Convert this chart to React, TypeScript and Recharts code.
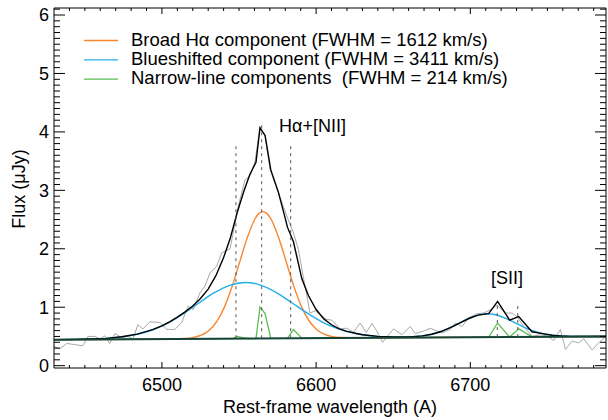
import React from 'react';
import { LineChart, Line, XAxis, YAxis, ReferenceLine, ReferenceDot } from 'recharts';

// observed spectrum (grey)
const dataWave = [
  6430, 6433.8, 6438.3, 6443.5, 6448.7, 6452, 6456.5, 6459.7, 6463, 6466.2, 6469.5, 6474, 6477.9, 6481.2,
  6484.4, 6487.7, 6492.2, 6498.7, 6503.1, 6508.4, 6512.8, 6517.1, 6520.3, 6524.7, 6527.9, 6531.2, 6535.5,
  6538.8, 6544.2, 6547.4, 6549.5, 6553.9, 6557.1, 6560.4, 6563.6, 6566.9, 6570.1, 6575.5, 6581, 6585.3,
  6588.5, 6591.8, 6596.1, 6599.4, 6606.9, 6610.2, 6615.6, 6619.9, 6624.2, 6628.6, 6632.5, 6636.2, 6639.4,
  6643.1, 6650.2, 6655.6, 6661, 6664.3, 6669.7, 6674, 6681.6, 6687, 6690.3, 6694.6, 6698.9, 6704.4, 6708.6,
  6714.1, 6717.3, 6722.7, 6727.1, 6730.3, 6734.6, 6740.1, 6745.5, 6749.8, 6754.1, 6758.4, 6761.7, 6766,
  6770.3, 6773.6, 6779, 6784.4, 6788,
];
const dataFlux = [
  0.33, 0.29, 0.38, 0.36, 0.34, 0.5, 0.5, 0.46, 0.51, 0.38, 0.55, 0.48, 0.5, 0.46,
  0.7, 0.63, 0.75, 0.74, 0.62, 0.62, 0.74, 1.02, 0.96, 1.25, 1.36, 1.59, 1.7,
  1.93, 2.0, 2.44, 2.73, 3.18, 3.24, 3.5, 4.08, 3.93, 3.36, 2.96, 2.56, 2.27,
  1.99, 1.5, 0.9, 0.94, 0.79, 0.78, 0.63, 0.64, 0.57, 0.73, 0.57, 0.72, 0.59,
  0.4, 0.63, 0.53, 0.67, 0.55, 0.59, 0.64, 0.56, 0.62, 0.73, 0.67, 0.82, 0.89, 0.9,
  0.97, 1.04, 0.9, 0.9, 0.84, 0.67, 0.5, 0.53, 0.51, 0.43, 0.62, 0.28, 0.42,
  0.39, 0.46, 0.27, 0.42, 0.5,
];

// broad H-alpha component (orange)
const broadWave = [
  6430, 6500, 6515.5, 6520.5, 6525.5, 6530.5, 6535.5, 6540.5, 6545.5, 6550.5, 6555.5, 6560.5, 6563,
  6565.5, 6568, 6570.5, 6575.5, 6580.5, 6585.5, 6590.5, 6595.5, 6600.5, 6605.5, 6610.5, 6615.5, 6630, 6788,
];
const broadFlux = [
  0.445, 0.455, 0.466, 0.483, 0.521, 0.603, 0.754, 1.002, 1.355, 1.78, 2.202, 2.518, 2.606,
  2.636, 2.606, 2.52, 2.206, 1.786, 1.361, 1.01, 0.764, 0.614, 0.534, 0.497, 0.482, 0.476, 0.5,
];

// blueshifted component (blue)
const blueWave = [
  6430, 6444, 6454, 6464, 6474, 6484, 6494, 6504, 6514, 6524, 6534, 6544, 6554, 6564, 6574, 6584, 6594,
  6604, 6614, 6624, 6634, 6644, 6657, 6663, 6669, 6675, 6681, 6687, 6693, 6699, 6705, 6711, 6717, 6723,
  6729, 6735, 6741, 6747, 6753, 6759, 6765, 6788,
];
const blueFlux = [
  0.445, 0.449, 0.456, 0.467, 0.492, 0.537, 0.615, 0.732, 0.891, 1.072, 1.248, 1.375, 1.424, 1.378, 1.254,
  1.081, 0.903, 0.747, 0.633, 0.558, 0.516, 0.494, 0.49, 0.494, 0.509, 0.537, 0.584, 0.649, 0.729, 0.807,
  0.865, 0.888, 0.867, 0.81, 0.734, 0.656, 0.593, 0.548, 0.521, 0.507, 0.501, 0.5,
];

// narrow-line components (green)
const narrowWave = [
  6430, 6546.3, 6548.9, 6553.2, 6557, 6561, 6563.6, 6566.9, 6570.6, 6581.4, 6585.3, 6590.7, 6711.9,
  6717.7, 6725.5, 6731.4, 6740, 6788,
];
const narrowFlux = [
  0.445, 0.463, 0.5, 0.475, 0.464, 0.465, 1.0, 0.89, 0.467, 0.469, 0.62, 0.47, 0.488,
  0.73, 0.49, 0.63, 0.493, 0.5,
];

// total model (black)
const modelWave = [
  6430, 6444, 6454, 6464, 6474, 6484, 6494, 6500, 6505, 6510, 6515, 6520, 6524.7, 6530, 6535, 6540,
  6544.2, 6548.9, 6553.2, 6557, 6561, 6563.6, 6566.9, 6570.6, 6575.5, 6579.9, 6581.4, 6585.3, 6590.7,
  6595, 6600, 6605, 6610, 6615, 6620, 6630, 6640, 6650, 6660, 6669, 6675, 6681, 6687, 6693, 6699, 6705,
  6711.9, 6717.7, 6725.5, 6731.4, 6740, 6747, 6753, 6759, 6765, 6788,
];
const modelFlux = [
  0.445, 0.449, 0.456, 0.467, 0.494, 0.54, 0.617, 0.68, 0.75, 0.83, 0.92, 1.02, 1.14, 1.31, 1.54, 1.85,
  2.17, 2.63, 2.99, 3.27, 3.48, 4.07, 3.94, 3.35, 2.97, 2.53, 2.37, 2.12, 1.49,
  1.2, 0.96, 0.8, 0.7, 0.63, 0.586, 0.53, 0.501, 0.49, 0.49, 0.509, 0.537, 0.584, 0.649, 0.729, 0.807, 0.865,
  0.89, 1.1, 0.78, 0.84, 0.58, 0.548, 0.521, 0.507, 0.501, 0.5,
];

// continuum
const contWave = [6430, 6788];
const contFlux = [0.445, 0.5];

// marked line positions (dotted)
const lineWave = [6548, 6564.7, 6583.5, 6717.5, 6730.8];
const lineTop = [3.81, 4.17, 3.81, 1.09, 1.09];
const lineBase = [0.47, 0.47, 0.47, 0.49, 0.49];

const xMajor = [6500, 6600, 6700];
const yMajor = [0, 1, 2, 3, 4, 5, 6];

const legendItems = [
  { label: 'Broad H\u03b1 component (FWHM = 1612 km/s)', color: '#f7862f' },
  { label: 'Blueshifted component (FWHM = 3411 km/s)', color: '#24aee8' },
  { label: 'Narrow-line components  (FWHM = 214 km/s)', color: '#5dbb55' },
];

const zip = (xs: number[], ys: number[]) => xs.map((x, i) => ({ x, y: ys[i] }));

const xTicks: number[] = [];
for (let i = 0; i <= 34; i++) xTicks.push(6440 + i * 10);
const yTicks: number[] = [];
for (let i = 0; i <= 61; i++) yTicks.push(i / 10);

const FONT = '"Liberation Sans", Arial, Helvetica, sans-serif';

const xTick = (side: 'bottom' | 'top') => (props: any) => {
  const { x, y, payload } = props;
  const v = payload.value;
  const major = xMajor.includes(v);
  const len = major ? 6 : 3;
  const dir = side === 'bottom' ? -1 : 1;
  return (
    <g>
      <line x1={x} y1={y} x2={x} y2={y + dir * len} stroke="#000" strokeWidth={1} />
      {side === 'bottom' && major && (
        <text x={x} y={y + 23} textAnchor="middle" fontSize={18} fontFamily={FONT} fill="#000">
          {v}
        </text>
      )}
    </g>
  );
};

const yTick = (side: 'left' | 'right') => (props: any) => {
  const { x, y, payload } = props;
  const v = payload.value;
  const major = yMajor.includes(v);
  const len = major ? 11 : 6;
  const dir = side === 'left' ? 1 : -1;
  return (
    <g>
      <line x1={x} y1={y} x2={x + dir * len} y2={y} stroke="#000" strokeWidth={1} />
      {side === 'left' && major && (
        <text x={x - 5} y={y + 6.4} textAnchor="end" fontSize={18} fontFamily={FONT} fill="#000">
          {v}
        </text>
      )}
    </g>
  );
};

export default function App() {
  return (
    <div style={{ position: 'absolute', left: 0, top: 0, width: 608, height: 420, background: '#fff' }}>
      <LineChart width={608} height={420} margin={{ top: 7, right: 1, bottom: 51, left: 53 }}>
        <XAxis
          type="number"
          dataKey="x"
          domain={[6430, 6788]}
          allowDataOverflow
          ticks={xTicks}
          interval={0}
          height={1}
          tickSize={0}
          tickMargin={0}
          tickLine={false}
          tick={xTick('bottom')}
          axisLine={{ stroke: '#000' }}
        />
        <XAxis
          xAxisId="top"
          orientation="top"
          type="number"
          dataKey="x"
          domain={[6430, 6788]}
          allowDataOverflow
          ticks={xTicks}
          interval={0}
          height={1}
          tickSize={0}
          tickMargin={0}
          tickLine={false}
          tick={xTick('top')}
          axisLine={{ stroke: '#000' }}
        />
        <YAxis
          type="number"
          domain={[-0.04, 6.12]}
          allowDataOverflow
          ticks={yTicks}
          interval={0}
          width={1}
          tickSize={0}
          tickMargin={0}
          tickLine={false}
          tick={yTick('left')}
          axisLine={{ stroke: '#000' }}
        />
        <YAxis
          yAxisId="right"
          orientation="right"
          type="number"
          domain={[-0.04, 6.12]}
          allowDataOverflow
          ticks={yTicks}
          interval={0}
          width={1}
          tickSize={0}
          tickMargin={0}
          tickLine={false}
          tick={yTick('right')}
          axisLine={{ stroke: '#000' }}
        />

        <Line data={zip(dataWave, dataFlux)} dataKey="y" type="linear" stroke="#a8a8a8" strokeWidth={1} dot={false} isAnimationActive={false} />
        <Line data={zip(broadWave, broadFlux)} dataKey="y" type="monotone" stroke="#f7862f" strokeWidth={1.4} dot={false} isAnimationActive={false} />
        <Line data={zip(blueWave, blueFlux)} dataKey="y" type="monotone" stroke="#24aee8" strokeWidth={1.4} dot={false} isAnimationActive={false} />
        <Line data={zip(narrowWave, narrowFlux)} dataKey="y" type="linear" stroke="#5dbb55" strokeWidth={1.3} dot={false} isAnimationActive={false} />
        <Line data={zip(modelWave, modelFlux)} dataKey="y" type="linear" stroke="#000" strokeWidth={1.4} dot={false} isAnimationActive={false} />
        <Line data={zip(contWave, contFlux)} dataKey="y" type="linear" stroke="#16443a" strokeWidth={2} dot={false} isAnimationActive={false} />

        {lineWave.map((w, i) => (
          <ReferenceLine
            key={w}
            segment={[{ x: w, y: lineBase[i] }, { x: w, y: lineTop[i] }]}
            stroke="#555"
            strokeWidth={1}
            strokeDasharray="3 4"
          />
        ))}

        <ReferenceDot
          x={6597.7}
          y={4.1}
          r={0}
          fill="none"
          stroke="none"
          label={{ value: 'H\u03b1+[NII]', position: 'center', fontSize: 18, fontFamily: FONT, fill: '#000' }}
        />
        <ReferenceDot
          x={6723.8}
          y={1.5}
          r={0}
          fill="none"
          stroke="none"
          label={{ value: '[SII]', position: 'center', fontSize: 18, fontFamily: FONT, fill: '#000' }}
        />
      </LineChart>

      <svg width={608} height={420} style={{ position: 'absolute', left: 0, top: 0, pointerEvents: 'none' }}>
        {legendItems.map((it, i) => (
          <g key={it.label}>
            <line x1={84} x2={118} y1={40.5 + i * 19.3} y2={40.5 + i * 19.3} stroke={it.color} strokeWidth={1.3} />
            <text x={131} y={46 + i * 19} fontSize={18.5} fontFamily={FONT} fill="#000" style={{ whiteSpace: 'pre' }}>
              {it.label}
            </text>
          </g>
        ))}
        <text x={330} y={412.5} textAnchor="middle" fontSize={18} fontFamily={FONT} fill="#000">
          Rest-frame wavelength (A)
        </text>
        <text x={25} y={189} textAnchor="middle" fontSize={18} fontFamily={FONT} fill="#000" transform="rotate(-90 25 189)">
          Flux ({'\u03bc'}Jy)
        </text>
      </svg>
    </div>
  );
}
